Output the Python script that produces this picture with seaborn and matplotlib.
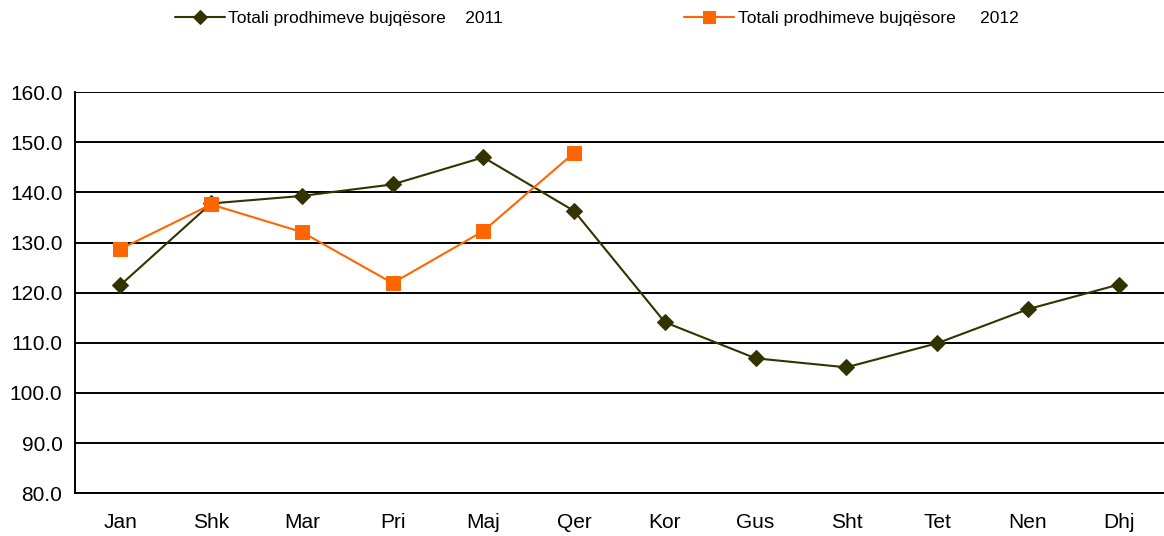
import matplotlib.pyplot as plt
import pandas as pd
import numpy as np
import seaborn as sns

# ---- data ----
months = ['Jan', 'Shk', 'Mar', 'Pri', 'Maj', 'Qer', 'Kor', 'Gus', 'Sht', 'Tet', 'Nen', 'Dhj']
vals_2011 = [121.5, 137.8, 139.3, 141.6, 147.0, 136.3, 114.1, 106.9, 105.1, 109.9, 116.7, 121.6]
vals_2012 = [128.7, 137.6, 132.1, 121.9, 132.3, 147.9]
label_2011 = 'Totali prodhimeve bujqësore    2011'
label_2012 = 'Totali prodhimeve bujqësore     2012'
yticks = [80, 90, 100, 110, 120, 130, 140, 150, 160]

sns.set_style('white')
plt.rcParams['font.family'] = ['Liberation Sans', 'DejaVu Sans']
plt.rcParams['text.color'] = 'black'
plt.rcParams['xtick.color'] = 'black'
plt.rcParams['ytick.color'] = 'black'

df11 = pd.DataFrame({'pos': np.arange(len(vals_2011)), 'v': vals_2011})
df12 = pd.DataFrame({'pos': np.arange(len(vals_2012)), 'v': vals_2012})

fig = plt.figure(figsize=(11.64, 5.36), dpi=100)
ax = fig.add_axes([0.0644, 0.080, 0.9356, 0.748])

for y in yticks:
    ax.axhline(y, color='black', lw=1.4, zorder=1)

sns.lineplot(data=df11, x='pos', y='v', ax=ax, color='#333300', lw=1.5,
             marker='D', markersize=8, markeredgecolor='#333300',
             label=label_2011, zorder=3)
sns.lineplot(data=df12, x='pos', y='v', ax=ax, color='#FF6600', lw=1.5,
             marker='s', markersize=10, markeredgecolor='#FF6600',
             label=label_2012, zorder=4)

ax.set_xlim(-0.5, 11.5)
ax.set_ylim(80, 160)
ax.set_yticks(yticks)
ax.set_yticklabels([f'{y:.1f}' for y in yticks], fontsize=15)
ax.set_xticks(np.arange(len(months)))
ax.set_xticklabels(months, fontsize=15)
ax.set_xticks(np.arange(len(months) + 1) - 0.5, minor=True)
ax.tick_params(axis='x', which='major', length=0, pad=14)
ax.tick_params(axis='x', which='minor', length=6, width=1.2, color='black', direction='out')
ax.tick_params(axis='y', length=6, width=1.2, color='black', direction='out', pad=3)
ax.set_xlabel('')
ax.set_ylabel('')

for s in ['top', 'right']:
    ax.spines[s].set_visible(False)
for s in ['left', 'bottom']:
    ax.spines[s].set_color('black')
    ax.spines[s].set_linewidth(1.4)

handles, labels = ax.get_legend_handles_labels()
ax.get_legend().remove()
fig.legend(handles, labels, loc='center left', bbox_to_anchor=(0.144, 1 - 18 / 536),
           ncol=2, frameon=False, fontsize=12.5, columnspacing=10.4,
           handlelength=2.9, handletextpad=0.2, borderaxespad=0, markerscale=0.85)

plt.savefig('out.png', dpi=100)
